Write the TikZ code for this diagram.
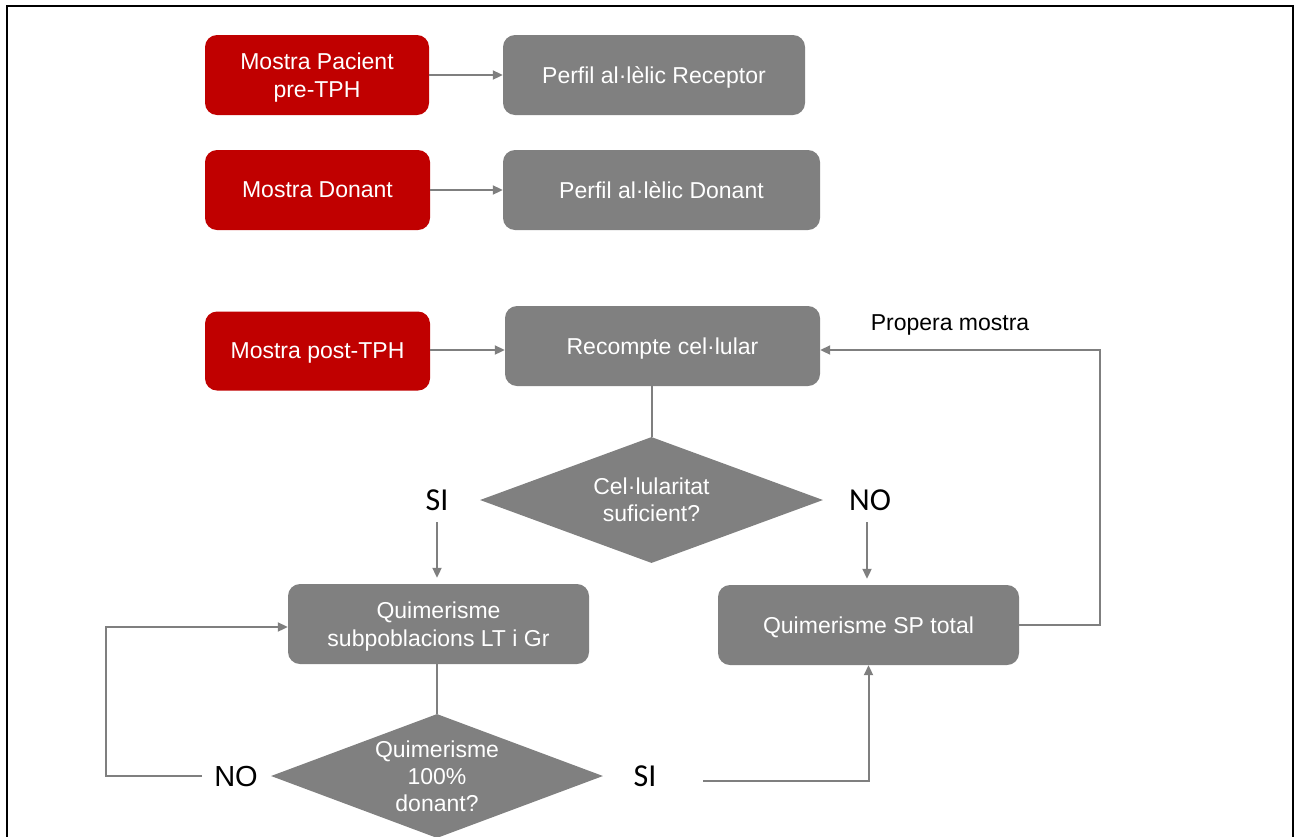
\documentclass[tikz,border=0pt]{standalone}
\usepackage{fontspec}
\setmainfont{Liberation Sans}
\newfontfamily\calib{Carlito}
\usetikzlibrary{shapes.geometric,arrows.meta}
\definecolor{redbox}{HTML}{C00000}
\definecolor{graybox}{HTML}{808080}
\definecolor{conn}{HTML}{7F7F7F}
\begin{document}
\begin{tikzpicture}[x=1pt,y=-1pt,
  boxbase/.style={rounded corners=12pt, text=white, align=center, inner sep=2pt,
    text depth=0pt, font=\fontsize{23}{28}\selectfont},
  redb/.style={boxbase, fill=redbox},
  grayb/.style={boxbase, fill=graybox},
  dia/.style={diamond, fill=graybox, text=white, align=center, inner sep=0pt,
    font=\fontsize{23}{27}\selectfont},
  lab/.style={font=\calib\fontsize{32}{36}\selectfont, inner sep=0pt},
  conline/.style={draw=conn, line width=2pt},
  arr/.style={conline, -{Triangle[length=10pt,width=9pt]}}
]
\useasboundingbox (0,0) rectangle (1301,836);
\clip (0,0) rectangle (1301,836);
% frame
\draw[black, line width=2.5pt] (7,840) -- (7,6) -- (1293,6) -- (1293,840);

% nodes
\node[redb, minimum width=224pt, minimum height=80pt] (mpp) at (317,75) {Mostra Pacient\\pre-TPH};
\node[grayb, minimum width=302pt, minimum height=80pt] (par) at (654,75) {Perfil al·lèlic Receptor};
\node[redb, minimum width=225pt, minimum height=80pt] (md) at (317.5,190) {Mostra Donant};
\node[grayb, minimum width=317pt, minimum height=80pt] (pad) at (661.5,190) {Perfil al·lèlic Donant};
\node[redb, minimum width=225pt, minimum height=79pt] (mpt) at (317.5,351) {Mostra post-TPH};
\node[grayb, minimum width=315pt, minimum height=80pt] (rc) at (662.5,346) {Recompte cel·lular};
\node[dia, minimum width=343pt, minimum height=126pt, aspect=2.72] (d1) at (651.5,500) {Cel·lularitat\\suficient?};
\node[grayb, minimum width=301pt, minimum height=80pt] (qs) at (438.5,624) {Quimerisme\\subpoblacions LT i Gr};
\node[grayb, minimum width=301pt, minimum height=80pt] (qt) at (868.5,625) {Quimerisme SP total};
\node[dia, minimum width=332pt, minimum height=124pt, aspect=2.68] (d2) at (437,776) {Quimerisme\\100\%\\donant?};

% labels
\node[lab] (si1) at (437,500) {SI};
\node[lab] (no1) at (870,500) {NO};
\node[font=\fontsize{29}{32}\selectfont, inner sep=0pt] (no2) at (236,777) {NO};
\node[lab] (si2) at (645,776) {SI};
\node[font=\fontsize{23}{28}\selectfont, inner sep=0pt] (prop) at (950,325) {Propera mostra};

% free-end coordinates
\coordinate (a1) at (437,522);
\coordinate (a2) at (867,522);
\coordinate (n2s) at (202,776);
\coordinate (nl) at (106,627);
\coordinate (s2s) at (703,781);
\coordinate (lp) at (1100,350);

% connectors
\draw[arr] (mpp.east) -- (par.west);
\draw[arr] (md.east) -- (pad.west);
\draw[arr] (mpt.east |- lp) -- (rc.west |- lp);
\draw[conline] (d1.north |- rc.south) -- (d1.north);
\draw[arr, shorten >=6pt] (a1) -- (a1 |- qs.north);
\draw[arr, shorten >=6pt] (a2) -- (a2 |- qt.north);
\draw[conline] (qs.south -| d2.north) -- (d2.north);
\draw[arr] (n2s) -- (n2s -| nl) -- (nl) -- (nl -| qs.west);
\draw[arr] (s2s) -- (s2s -| qt.south) -- (qt.south);
\draw[arr] (qt.east) -- (qt.east -| lp) -- (lp) -- (lp -| rc.east);
\end{tikzpicture}
\end{document}
